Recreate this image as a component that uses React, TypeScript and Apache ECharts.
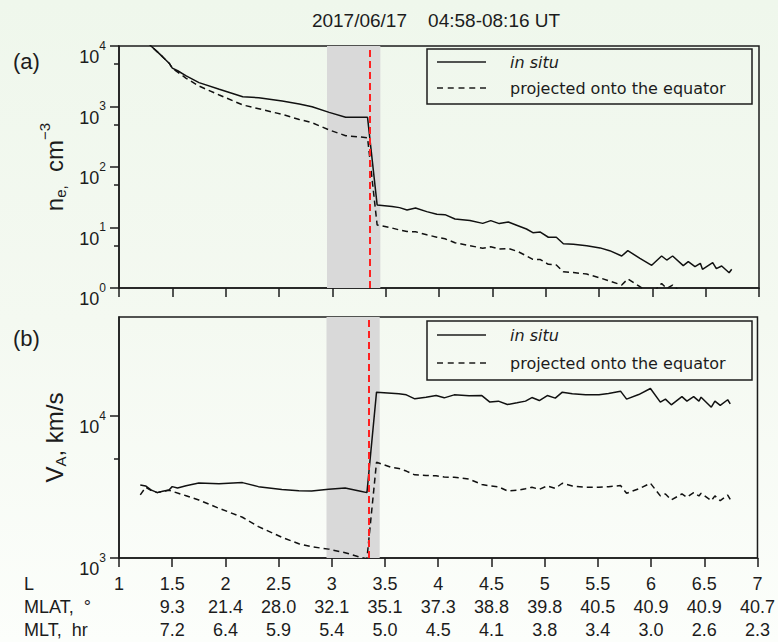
import React, { useEffect, useRef } from 'react';
import * as echarts from 'echarts';

// L-shell of each sample along the pass
const lShell = [
  1.2, 1.25, 1.3, 1.36, 1.41, 1.47, 1.5, 1.55, 1.63, 1.75,
  1.94, 2.16, 2.31, 2.53, 2.69, 2.81, 2.97, 3.125, 3.27, 3.33,
  3.42, 3.56, 3.63, 3.7, 3.78, 3.885, 3.98, 4.056, 4.15, 4.29,
  4.41, 4.485, 4.565, 4.65, 4.74, 4.82, 4.88, 4.95, 5.025, 5.1,
  5.166, 5.26, 5.385, 5.51, 5.6, 5.713, 5.77, 5.884, 5.994, 6.087,
  6.135, 6.19, 6.29, 6.337, 6.4, 6.45, 6.47, 6.566, 6.6, 6.65,
  6.72, 6.744,
];

// Electron density, cm^-3
const neInSitu = [
  16000, 13000, 10000, 8000, 6600, 5200, 4300, 3900, 3200, 2480,
  1930, 1450, 1400, 1230, 1100, 990, 800, 662, 662, 662,
  23.6, 22.3, 21.3, 19.5, 21.0, 18.3, 16.5, 16.3, 13.8, 13.0,
  11.7, 13.0, 11.6, 12.3, 10.7, 9.45, 8.2, 8.4, 6.9, 6.9,
  5.4, 5.3, 5.0, 4.6, 4.14, 3.38, 4.14, 3.09, 2.37, 3.38,
  2.9, 3.38, 2.34, 2.72, 2.25, 2.56, 2.04, 2.62, 2.09, 2.31,
  1.79, 2.04,
];
const neEquator = [
  16000, 13000, 10000, 8000, 6600, 5200, 4300, 3700, 2925, 2180,
  1550, 1060, 920, 740, 610, 540, 410, 329, 312, 305,
  11.0, 9.8, 9.1, 8.6, 8.5, 7.6, 6.9, 6.5, 5.6, 5.0,
  4.55, 4.8, 4.4, 4.5, 4.0, 3.4, 2.98, 2.95, 2.46, 2.4,
  1.86, 1.8, 1.7, 1.47, 1.3, 1.12, 1.41, 1.05, 0.8, 1.19,
  0.98, 1.12, 0.78, 0.9, 0.74, 0.84, 0.67, 0.86, 0.68, 0.75,
  0.58, 0.66,
];

// Alfven speed, km/s
const vaInSitu = [
  3275, 3220, 3020, 2890, 2955, 3020, 3185, 3120, 3235, 3380,
  3340, 3400, 3185, 3035, 2985, 2970, 3055, 3120, 2960, 2890,
  14760, 14500, 14360, 14130, 13240, 13610, 13970, 13460, 14130, 13900,
  13970, 12560, 12760, 12080, 12420, 12760, 13520, 12880, 13970, 13400,
  14760, 14360, 14130, 14130, 14450, 15000, 13180, 14200, 15660, 12560,
  13180, 12020, 13740, 12760, 13740, 12760, 13600, 11560, 12760, 11900,
  13050, 12200,
];
const vaEquator = [
  2785, 3150, 3000, 2890, 2955, 3000, 2950, 2870, 2750, 2565,
  2240, 1937, 1664, 1400, 1260, 1200, 1155, 1090, 1011, 990,
  4730, 4350, 4280, 4100, 3855, 3820, 3800, 3720, 3710, 3600,
  3300, 3220, 3180, 2970, 3000, 3080, 3155, 3050, 3220, 3100,
  3365, 3220, 3155, 3155, 3185, 3240, 2860, 3075, 3365, 2740,
  2830, 2565, 2830, 2680, 2890, 2740, 2860, 2535, 2740, 2535,
  2780, 2590,
];

// Shaded interval and boundary crossing, in L
const bandL = [2.95, 3.45];
const boundaryL = 3.35;

// Bottom tick rows, one entry per L tick (1, 1.5, ..., 7)
const mlatLabels = ['', '9.3', '21.4', '28.0', '32.1', '35.1', '37.3', '38.8', '39.8', '40.5', '40.9', '40.9', '40.7'];
const mltLabels = ['', '7.2', '6.4', '5.9', '5.4', '5.0', '4.5', '4.1', '3.8', '3.4', '3.0', '2.6', '2.3'];

const neMinorTicks = [5, 50, 500, 5000];
const vaMajorTicks = [1000, 10000];
const vaMinorTicks = [5000];

const ink = '#1c1c1c';
const sans = '"Liberation Sans", Arial, sans-serif';
const legendFont = '"DejaVu Sans", sans-serif';

const pairs = (ys: number[]) => lShell.map((l, i) => [l, ys[i]]);

const powLabel = (v: number) => {
  const e = Math.log10(v);
  if (Math.abs(e - Math.round(e)) > 1e-6) return '';
  return `{b|10}{s|${Math.round(e)}}`;
};

const powRich = {
  b: { fontSize: 18, fontFamily: sans, color: ink, lineHeight: 18, padding: [11, 0, 0, 0], verticalAlign: 'top' },
  s: { fontSize: 12, fontFamily: sans, color: ink, lineHeight: 12, padding: [2.5, 0, 0, 0], verticalAlign: 'top' },
};

const nameRich = {
  m: { fontSize: 24, fontFamily: sans, color: ink, lineHeight: 24, padding: [8, 0, 0, 0], verticalAlign: 'top' },
  sub: { fontSize: 15, fontFamily: sans, color: ink, lineHeight: 15, padding: [19, 0, 0, 0], verticalAlign: 'top' },
  sup: { fontSize: 15, fontFamily: sans, color: ink, lineHeight: 15, padding: [3, 0, 0, 0], verticalAlign: 'top' },
};

const axisLineStyle = { color: ink, width: 1.5 };

const xBase = (gridIndex: number) => ({
  gridIndex,
  type: 'value',
  position: 'bottom',
  min: 1,
  max: 7,
  interval: 0.5,
  axisLine: { show: true, onZero: false, lineStyle: axisLineStyle },
  axisTick: { show: true, length: 9, lineStyle: axisLineStyle },
  splitLine: { show: false },
});

const bottomLabel = { margin: 17, fontSize: 18, fontFamily: sans, color: ink };

const rowAxis = (offset: number, labels: string[]) => ({
  ...xBase(1),
  offset,
  axisLine: { show: false },
  axisTick: { show: false },
  axisLabel: {
    ...bottomLabel,
    formatter: (v: number) => labels[Math.round((v - 1) / 0.5)] ?? '',
  },
});

const minorAxis = (gridIndex: number, min: number, max: number, values: number[]) => ({
  gridIndex,
  type: 'log',
  logBase: 10,
  position: 'left',
  min,
  max,
  axisLine: { show: false, onZero: false },
  axisLabel: { show: false },
  axisTick: { show: true, length: 5, customValues: values, lineStyle: axisLineStyle },
  splitLine: { show: false },
});

const curve = (name: string, ys: number[], axis: number, dashed: boolean) => ({
  name,
  type: 'line',
  xAxisIndex: axis,
  yAxisIndex: axis === 0 ? 0 : 2,
  data: pairs(ys),
  symbol: 'none',
  showSymbol: false,
  clip: true,
  silent: true,
  z: 3,
  lineStyle: { color: '#111', width: 1.5, type: dashed ? [6, 4] : 'solid' },
});

const band = (axis: number) => ({
  type: 'line',
  xAxisIndex: axis,
  yAxisIndex: axis === 0 ? 0 : 2,
  data: [],
  z: 1,
  silent: true,
  markArea: {
    silent: true,
    itemStyle: { color: '#d9d9d9' },
    data: [[{ xAxis: bandL[0] }, { xAxis: bandL[1] }]],
  },
});

const boundary = (axis: number) => ({
  type: 'line',
  xAxisIndex: axis,
  yAxisIndex: axis === 0 ? 0 : 2,
  data: [],
  z: 5,
  silent: true,
  markLine: {
    silent: true,
    symbol: ['none', 'none'],
    label: { show: false },
    lineStyle: { color: '#ff2020', width: 2, type: [7, 4] },
    data: [{ xAxis: boundaryL }],
  },
});

const legendBox = (top: number, height: number, row1: number, row2: number) => ({
  type: 'group',
  z: 100,
  children: [
    { type: 'rect', shape: { x: 427, y: top, width: 325, height }, style: { fill: 'none', stroke: ink, lineWidth: 1.5 } },
    { type: 'line', shape: { x1: 437, y1: row1, x2: 486, y2: row1 }, style: { stroke: ink, lineWidth: 1.5 } },
    { type: 'line', shape: { x1: 437, y1: row2, x2: 486, y2: row2 }, style: { stroke: ink, lineWidth: 1.5, lineDash: [6, 4.75] } },
    { type: 'text', x: 510, y: row1, style: { text: 'in situ', fontSize: 16, fontStyle: 'italic', fontFamily: legendFont, fill: ink, verticalAlign: 'middle' } },
    { type: 'text', x: 510, y: row2, style: { text: 'projected onto the equator', fontSize: 16, fontFamily: legendFont, fill: ink, verticalAlign: 'middle' } },
  ],
});

const plainText = (text: string, x: number, y: number, size: number, align = 'left') => ({
  type: 'text',
  x,
  y,
  z: 100,
  style: { text, fontSize: size, fontFamily: sans, fill: ink, align, verticalAlign: 'middle' },
});

export default function App() {
  const ref = useRef<HTMLDivElement>(null);

  useEffect(() => {
    if (!ref.current) return;
    const chart = echarts.init(ref.current, undefined, { renderer: 'svg' });
    chart.setOption({
      animation: false,
      backgroundColor: 'transparent',
      grid: [
        { left: 119, top: 46, width: 640, height: 242, show: true, borderColor: ink, borderWidth: 1.5 },
        { left: 119, top: 317, width: 640, height: 241, show: true, borderColor: ink, borderWidth: 1.5 },
      ],
      xAxis: [
        { ...xBase(0), axisLabel: { show: false } },
        { ...xBase(1), axisLabel: bottomLabel },
        rowAxis(23, mlatLabels),
        rowAxis(46, mltLabels),
      ],
      yAxis: [
        {
          gridIndex: 0,
          type: 'log',
          logBase: 10,
          position: 'left',
          min: 1,
          max: 10000,
          axisLine: { show: true, onZero: false, lineStyle: axisLineStyle },
          axisTick: { show: true, length: 9, lineStyle: axisLineStyle },
          axisLabel: { margin: 13, formatter: powLabel, rich: powRich },
          splitLine: { show: false },
          name: '{m|n}{sub|e,}{m|  cm}{sup|\u22123}',
          nameLocation: 'middle',
          nameRotate: 90,
          nameGap: 52,
          nameTextStyle: { rich: nameRich },
        },
        minorAxis(0, 1, 10000, neMinorTicks),
        {
          gridIndex: 1,
          type: 'log',
          logBase: 10,
          position: 'left',
          min: 1000,
          max: 50000,
          axisLine: { show: true, onZero: false, lineStyle: axisLineStyle },
          axisTick: { show: true, length: 9, customValues: vaMajorTicks, lineStyle: axisLineStyle },
          axisLabel: { margin: 13, customValues: vaMajorTicks, formatter: powLabel, rich: powRich },
          splitLine: { show: false },
          name: '{m|V}{sub|A}{m|, km/s}',
          nameLocation: 'middle',
          nameRotate: 90,
          nameGap: 52,
          nameTextStyle: { rich: nameRich },
        },
        minorAxis(1, 1000, 50000, vaMinorTicks),
      ],
      series: [
        band(0),
        band(1),
        curve('in situ', neInSitu, 0, false),
        curve('projected onto the equator', neEquator, 0, true),
        curve('in situ', vaInSitu, 1, false),
        curve('projected onto the equator', vaEquator, 1, true),
        boundary(0),
        boundary(1),
      ],
      graphic: [
        plainText('2017/06/17    04:58-08:16 UT', 436, 20, 19, 'center'),
        plainText('(a)', 13, 61, 22),
        plainText('(b)', 13, 338, 22),
        plainText('L', 24, 584, 18),
        plainText('MLAT,  \u00B0', 24, 607, 18),
        plainText('MLT,  hr', 24, 630, 18),
        legendBox(49, 55, 62, 88),
        legendBox(321, 59, 335, 363),
      ],
    });
    return () => chart.dispose();
  }, []);

  return (
    <div
      ref={ref}
      style={{
        position: 'absolute',
        left: 0,
        top: 0,
        width: 778,
        height: 642,
        background: 'linear-gradient(180deg, #eff7ec 0%, #f4f9f1 50%, #fcfefb 100%)',
      }}
    />
  );
}
